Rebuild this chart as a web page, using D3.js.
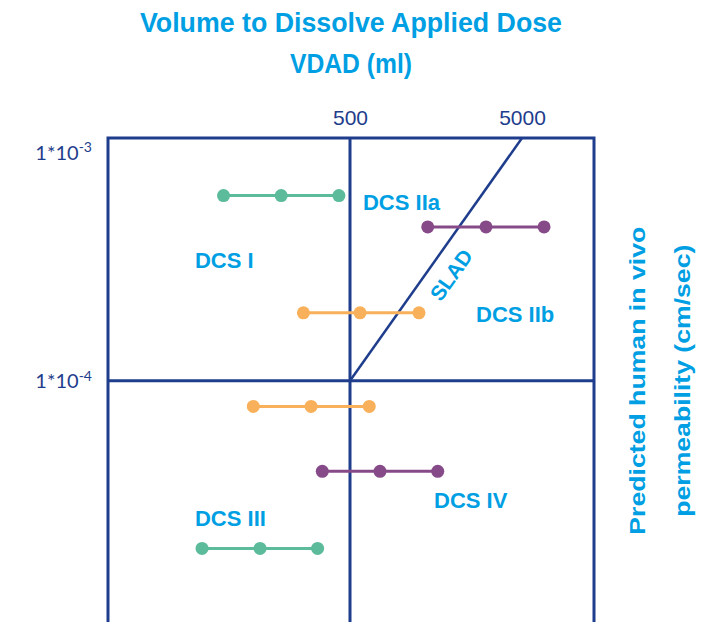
<!DOCTYPE html>
<html>
<head>
<meta charset="utf-8">
<script src="https://cdn.jsdelivr.net/npm/d3@7"></script>
<style>
  html, body { margin: 0; padding: 0; background: #ffffff; }
  svg { display: block; }
</style>
</head>
<body>
<svg id="chart" width="716" height="622"></svg>
<script>
// ---------------- DATA ----------------
const xTickValues = [500, 5000];
const xTickLabels = ["500", "5000"];
const yTickValues = [1e-3, 1e-4];
const yTickBase = ["1*10", "1*10"];
const yTickExp = ["-3", "-4"];

// each row: three VDAD values (ml) at a given permeability (cm/sec)
const rowVdad = [
  [92, 199, 431],
  [1415, 3087, 6714],
  [268, 572, 1259],
  [137, 297, 647],
  [345, 747, 1618],
  [69, 150, 324]
];
const rowPermeability = [6.44e-4, 4.70e-4, 1.98e-4, 7.72e-5, 4.02e-5, 1.85e-5];
const rowGroup = ["green", "purple", "orange", "orange", "purple", "green"];

const regionLabels = ["DCS I", "DCS IIa", "DCS IIb", "DCS III", "DCS IV"];
const regionLabelVdad = [62.8, 595, 2701, 62.8, 1539];
const regionLabelPerm = [3.38e-4, 6.05e-4, 1.96e-4, 2.52e-5, 3.02e-5];

const sladVdad = [500, 5000];
const sladPerm = [1e-4, 1.15e-3];
const sladLabel = "SLAD";
const sladLabelVdad = 1933;
const sladLabelPerm = 2.90e-4;

const boundaryVdad = 500;     // vertical divider
const boundaryPerm = 1e-4;    // horizontal divider
const xDomain = [19.6, 13100];
const yDomain = [1.15e-3, 7e-6];

const titleLines = ["Volume to Dissolve Applied Dose", "VDAD (ml)"];
const rightTitleLines = ["Predicted human in vivo", "permeability (cm/sec)"];

// ---------------- STYLE ----------------
const navy = "#1e3d8c";
const cyan = "#009fe3";
const groupColor = { green: "#5bbb9a", purple: "#864a88", orange: "#f8b05a" };

const svg = d3.select("#chart");

const x = d3.scaleLog().domain(xDomain).range([108, 594]);
const y = d3.scaleLog().domain(yDomain).range([138, 645]);

// Frame
const xL = x(xDomain[0]), xR = x(xDomain[1]), yT = y(yDomain[0]), yB = y(yDomain[1]);
const frame = svg.append("g").attr("fill", "none").attr("stroke", navy).attr("stroke-width", 3);
frame.append("path").attr("d", `M${xL},${yB}V${yT}H${xR}V${yB}`);
frame.append("line").attr("x1", x(boundaryVdad)).attr("x2", x(boundaryVdad)).attr("y1", yT).attr("y2", yB);
frame.append("line").attr("x1", xL).attr("x2", xR).attr("y1", y(boundaryPerm)).attr("y2", y(boundaryPerm));

// SLAD line
svg.append("line")
  .attr("x1", x(sladVdad[0])).attr("y1", y(sladPerm[0]))
  .attr("x2", x(sladVdad[1])).attr("y2", y(sladPerm[1]))
  .attr("stroke", navy).attr("stroke-width", 2.5);

// Top axis
const topAxis = d3.axisTop(x).tickValues(xTickValues)
  .tickFormat((d, i) => xTickLabels[i]).tickSize(0).tickPadding(13);
const gTop = svg.append("g").attr("transform", `translate(0,${yT})`).call(topAxis);
gTop.select(".domain").remove();
gTop.selectAll("text").attr("font-family", "Liberation Sans, Arial, sans-serif")
  .attr("font-size", 21).attr("fill", navy);

// Left axis
const leftAxis = d3.axisLeft(y).tickValues(yTickValues).tickSize(0).tickPadding(16).tickFormat(() => "");
const gLeft = svg.append("g").attr("transform", `translate(${xL},0)`).call(leftAxis);
gLeft.select(".domain").remove();
gLeft.selectAll("text").each(function(d, i) {
  const t = d3.select(this).attr("font-family", "Lato, 'Open Sans', sans-serif")
    .attr("font-size", 20).attr("fill", navy).attr("dy", "0.36em");
  t.append("tspan").text(yTickBase[i]);
  t.append("tspan").attr("font-size", 14).attr("dy", "-0.55em").text(yTickExp[i]);
});

// Rows
const rows = svg.append("g");
rowVdad.forEach((vals, i) => {
  const c = groupColor[rowGroup[i]];
  const yy = y(rowPermeability[i]);
  rows.append("line")
    .attr("x1", x(d3.min(vals))).attr("x2", x(d3.max(vals)))
    .attr("y1", yy).attr("y2", yy)
    .attr("stroke", c).attr("stroke-width", 3);
  rows.selectAll(null).data(vals).enter().append("circle")
    .attr("cx", d => x(d)).attr("cy", yy).attr("r", 6.5).attr("fill", c);
});

// Region labels
svg.append("g").selectAll("text").data(regionLabels).enter().append("text")
  .attr("x", (d, i) => x(regionLabelVdad[i]))
  .attr("y", (d, i) => y(regionLabelPerm[i]))
  .attr("dy", "0.36em")
  .attr("font-family", "Liberation Sans, Arial, sans-serif")
  .attr("font-weight", "bold").attr("font-size", 22).attr("fill", cyan)
  .text(d => d);

// SLAD label
const ang = Math.atan2(y(sladPerm[1]) - y(sladPerm[0]), x(sladVdad[1]) - x(sladVdad[0])) * 180 / Math.PI;
svg.append("text")
  .attr("transform", `translate(${x(sladLabelVdad)},${y(sladLabelPerm)}) rotate(${ang})`)
  .attr("text-anchor", "middle").attr("dy", "0.36em")
  .attr("font-family", "Liberation Sans, Arial, sans-serif")
  .attr("font-weight", "bold").attr("font-size", 21).attr("fill", cyan)
  .text(sladLabel);

// Title
const titleY = [32, 73];
const titleLen = [422, 122];
svg.append("g").selectAll("text").data(titleLines).enter().append("text")
  .attr("x", 351).attr("y", (d, i) => titleY[i])
  .attr("text-anchor", "middle")
  .attr("textLength", (d, i) => titleLen[i]).attr("lengthAdjust", "spacingAndGlyphs")
  .attr("font-family", "Liberation Sans, Arial, sans-serif")
  .attr("font-weight", "bold").attr("font-size", 27).attr("fill", cyan)
  .text(d => d);

// Right title
const rtX = [645, 690];
const rtLen = [308, 272];
svg.append("g").selectAll("text").data(rightTitleLines).enter().append("text")
  .attr("transform", (d, i) => `translate(${rtX[i]},${y(boundaryPerm)}) rotate(-90)`)
  .attr("text-anchor", "middle")
  .attr("textLength", (d, i) => rtLen[i]).attr("lengthAdjust", "spacingAndGlyphs")
  .attr("font-family", "Liberation Sans, Arial, sans-serif")
  .attr("font-weight", "bold").attr("font-size", 22).attr("fill", cyan)
  .text(d => d);
</script>
</body>
</html>
